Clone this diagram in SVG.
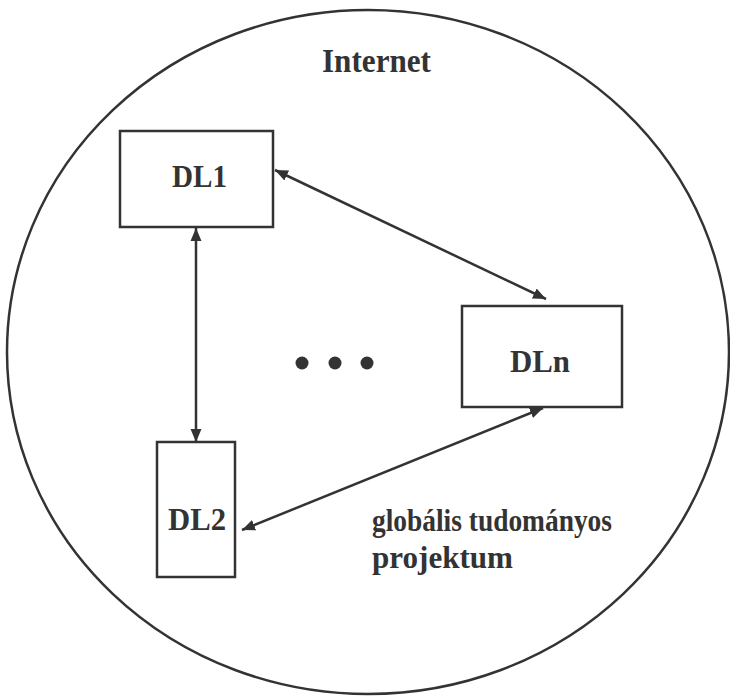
<svg xmlns="http://www.w3.org/2000/svg" width="730" height="696" viewBox="0 0 730 696">
<defs>
<style>
.frame{fill:none;stroke:#333;stroke-width:2.5}
.box{fill:#fff;stroke:#333;stroke-width:2.5}
.lbl{font-family:"Liberation Serif","Times New Roman",serif;font-weight:bold;fill:#333}
.conn{fill:none;stroke:#333;stroke-width:2.5;marker-start:url(#ah);marker-end:url(#ah)}
.dot{fill:#333}
</style>
<marker id="ah" markerUnits="userSpaceOnUse" markerWidth="14" markerHeight="12" refX="13" refY="5.5" orient="auto-start-reverse" viewBox="0 0 14 11">
<path d="M0,0 L13,5.5 L0,11 z" fill="#333"/>
</marker>
</defs>
<rect width="730" height="696" fill="#fff"/>
<g id="internet">
<ellipse class="frame" cx="368" cy="352" rx="361" ry="342"/>
<text class="lbl" x="322" y="72" font-size="34" textLength="109" lengthAdjust="spacingAndGlyphs">Internet</text>
</g>
<g id="connectors">
<line class="conn" x1="275" y1="170" x2="546" y2="299"/>
<line class="conn" x1="196" y1="228" x2="196" y2="442"/>
<line class="conn" x1="543" y1="408" x2="242" y2="530"/>
</g>
<g id="DL1">
<rect class="box" x="120" y="131" width="153" height="96"/>
<text class="lbl" x="172" y="187" font-size="32" textLength="55" lengthAdjust="spacingAndGlyphs">DL1</text>
</g>
<g id="DLn">
<rect class="box" x="462" y="306" width="160" height="101"/>
<text class="lbl" x="510" y="372" font-size="31" textLength="60" lengthAdjust="spacingAndGlyphs">DLn</text>
</g>
<g id="DL2">
<rect class="box" x="157" y="442" width="78" height="135"/>
<text class="lbl" x="168" y="530" font-size="31" textLength="58" lengthAdjust="spacingAndGlyphs">DL2</text>
</g>
<g id="dots">
<circle class="dot" cx="302" cy="363" r="6.5"/>
<circle class="dot" cx="335" cy="363" r="6.5"/>
<circle class="dot" cx="367" cy="363" r="6.5"/>
</g>
<g id="project-label">
<text class="lbl" x="372" y="531" font-size="31" textLength="240" lengthAdjust="spacingAndGlyphs">globális tudományos</text>
<text class="lbl" x="372" y="568" font-size="31" textLength="141" lengthAdjust="spacingAndGlyphs">projektum</text>
</g>
</svg>
